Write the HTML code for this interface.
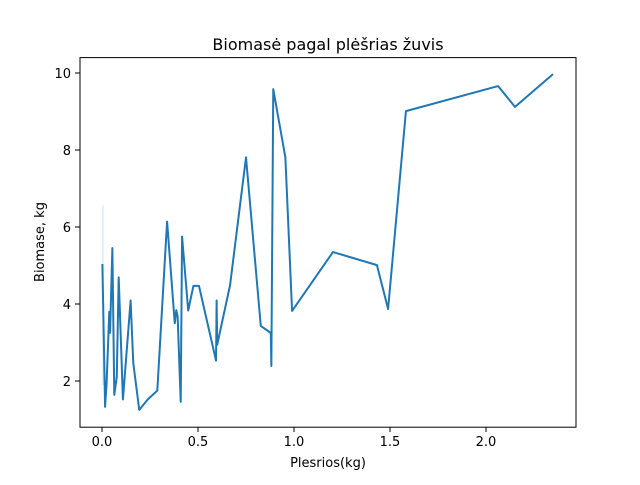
<!DOCTYPE html>
<html><head><meta charset="utf-8"><style>
body{margin:0;background:#fff}
svg text{font-family:"DejaVu Sans","Liberation Sans",sans-serif;fill:#000}
</style></head><body>
<svg id="chart" width="640" height="480" xmlns="http://www.w3.org/2000/svg">
<rect width="640" height="480" fill="#fff"/>
<text x="328" y="50" font-size="16" text-anchor="middle">Biomasė pagal plėšrias žuvis</text>
<g id="plot"></g>
<rect x="80" y="57.6" width="496" height="369.6" fill="none" stroke="#000" stroke-width="1"/>
<text x="328" y="467" font-size="13" text-anchor="middle">Plesrios(kg)</text>
<text transform="translate(44,242) rotate(-90)" font-size="13" text-anchor="middle">Biomase, kg</text>
</svg>
<script>
const xs = [0.002,0.016,0.024,0.038,0.042,0.054,0.064,0.077,0.087,0.109,0.149,0.163,0.194,0.238,0.288,0.339,0.379,0.387,0.394,0.410,0.417,0.449,0.476,0.505,0.594,0.597,0.600,0.667,0.75,0.827,0.879,0.882,0.892,0.955,0.990,1.203,1.432,1.490,1.583,2.063,2.151,2.349];
const ys = [5.04,1.33,1.95,3.80,3.25,5.45,1.64,2.11,4.69,1.52,4.09,2.46,1.25,1.52,1.75,6.14,3.50,3.84,3.67,1.46,5.75,3.83,4.47,4.47,2.53,4.09,2.94,4.49,7.81,3.43,3.25,2.39,9.58,7.81,3.82,5.35,5.01,3.87,9.01,9.66,9.12,9.97];
const faintX = [0.005,0.005];
const faintY = [6.56,1.9];
const xTicks = [0,0.5,1,1.5,2];
const xTickLabels = ["0.0","0.5","1.0","1.5","2.0"];
const yTicks = [2,4,6,8,10];
const yTickLabels = ["2","4","6","8","10"];
const NS="http://www.w3.org/2000/svg";
const sx=v=>102+v*192;
const sy=v=>381-(v-2)*38.5;
const svg=document.getElementById('chart');
const g=document.getElementById('plot');
function mk(t,a){const e=document.createElementNS(NS,t);for(const k in a)e.setAttribute(k,a[k]);return e;}
const fl=mk('polyline',{points:faintX.map((x,i)=>sx(x)+','+sy(faintY[i])).join(' '),fill:'none',stroke:'#1f77b4','stroke-opacity':'0.15','stroke-width':'1.5'});


g.appendChild(fl);
const pl=mk('polyline',{points:xs.map((x,i)=>sx(x)+','+sy(ys[i])).join(' '),fill:'none',stroke:'#1f77b4','stroke-width':'2','stroke-linejoin':'round'});


g.appendChild(pl);
xTicks.forEach((t,i)=>{
  const l=mk('line',{x1:sx(t),x2:sx(t),y1:427.2,y2:432,stroke:'#000'});
  
  
  svg.appendChild(l);
  const tx=mk('text',{x:sx(t),y:446,'font-size':'13','text-anchor':'middle'});
  tx.textContent=xTickLabels[i];
  
  
  svg.appendChild(tx);
});
yTicks.forEach((t,i)=>{
  const l=mk('line',{x1:75,x2:80,y1:sy(t),y2:sy(t),stroke:'#000'});
  
  
  svg.appendChild(l);
  const tx=mk('text',{x:71,y:sy(t)+5,'font-size':'13','text-anchor':'end'});
  tx.textContent=yTickLabels[i];
  
  
  svg.appendChild(tx);
});
</script>
</body></html>
